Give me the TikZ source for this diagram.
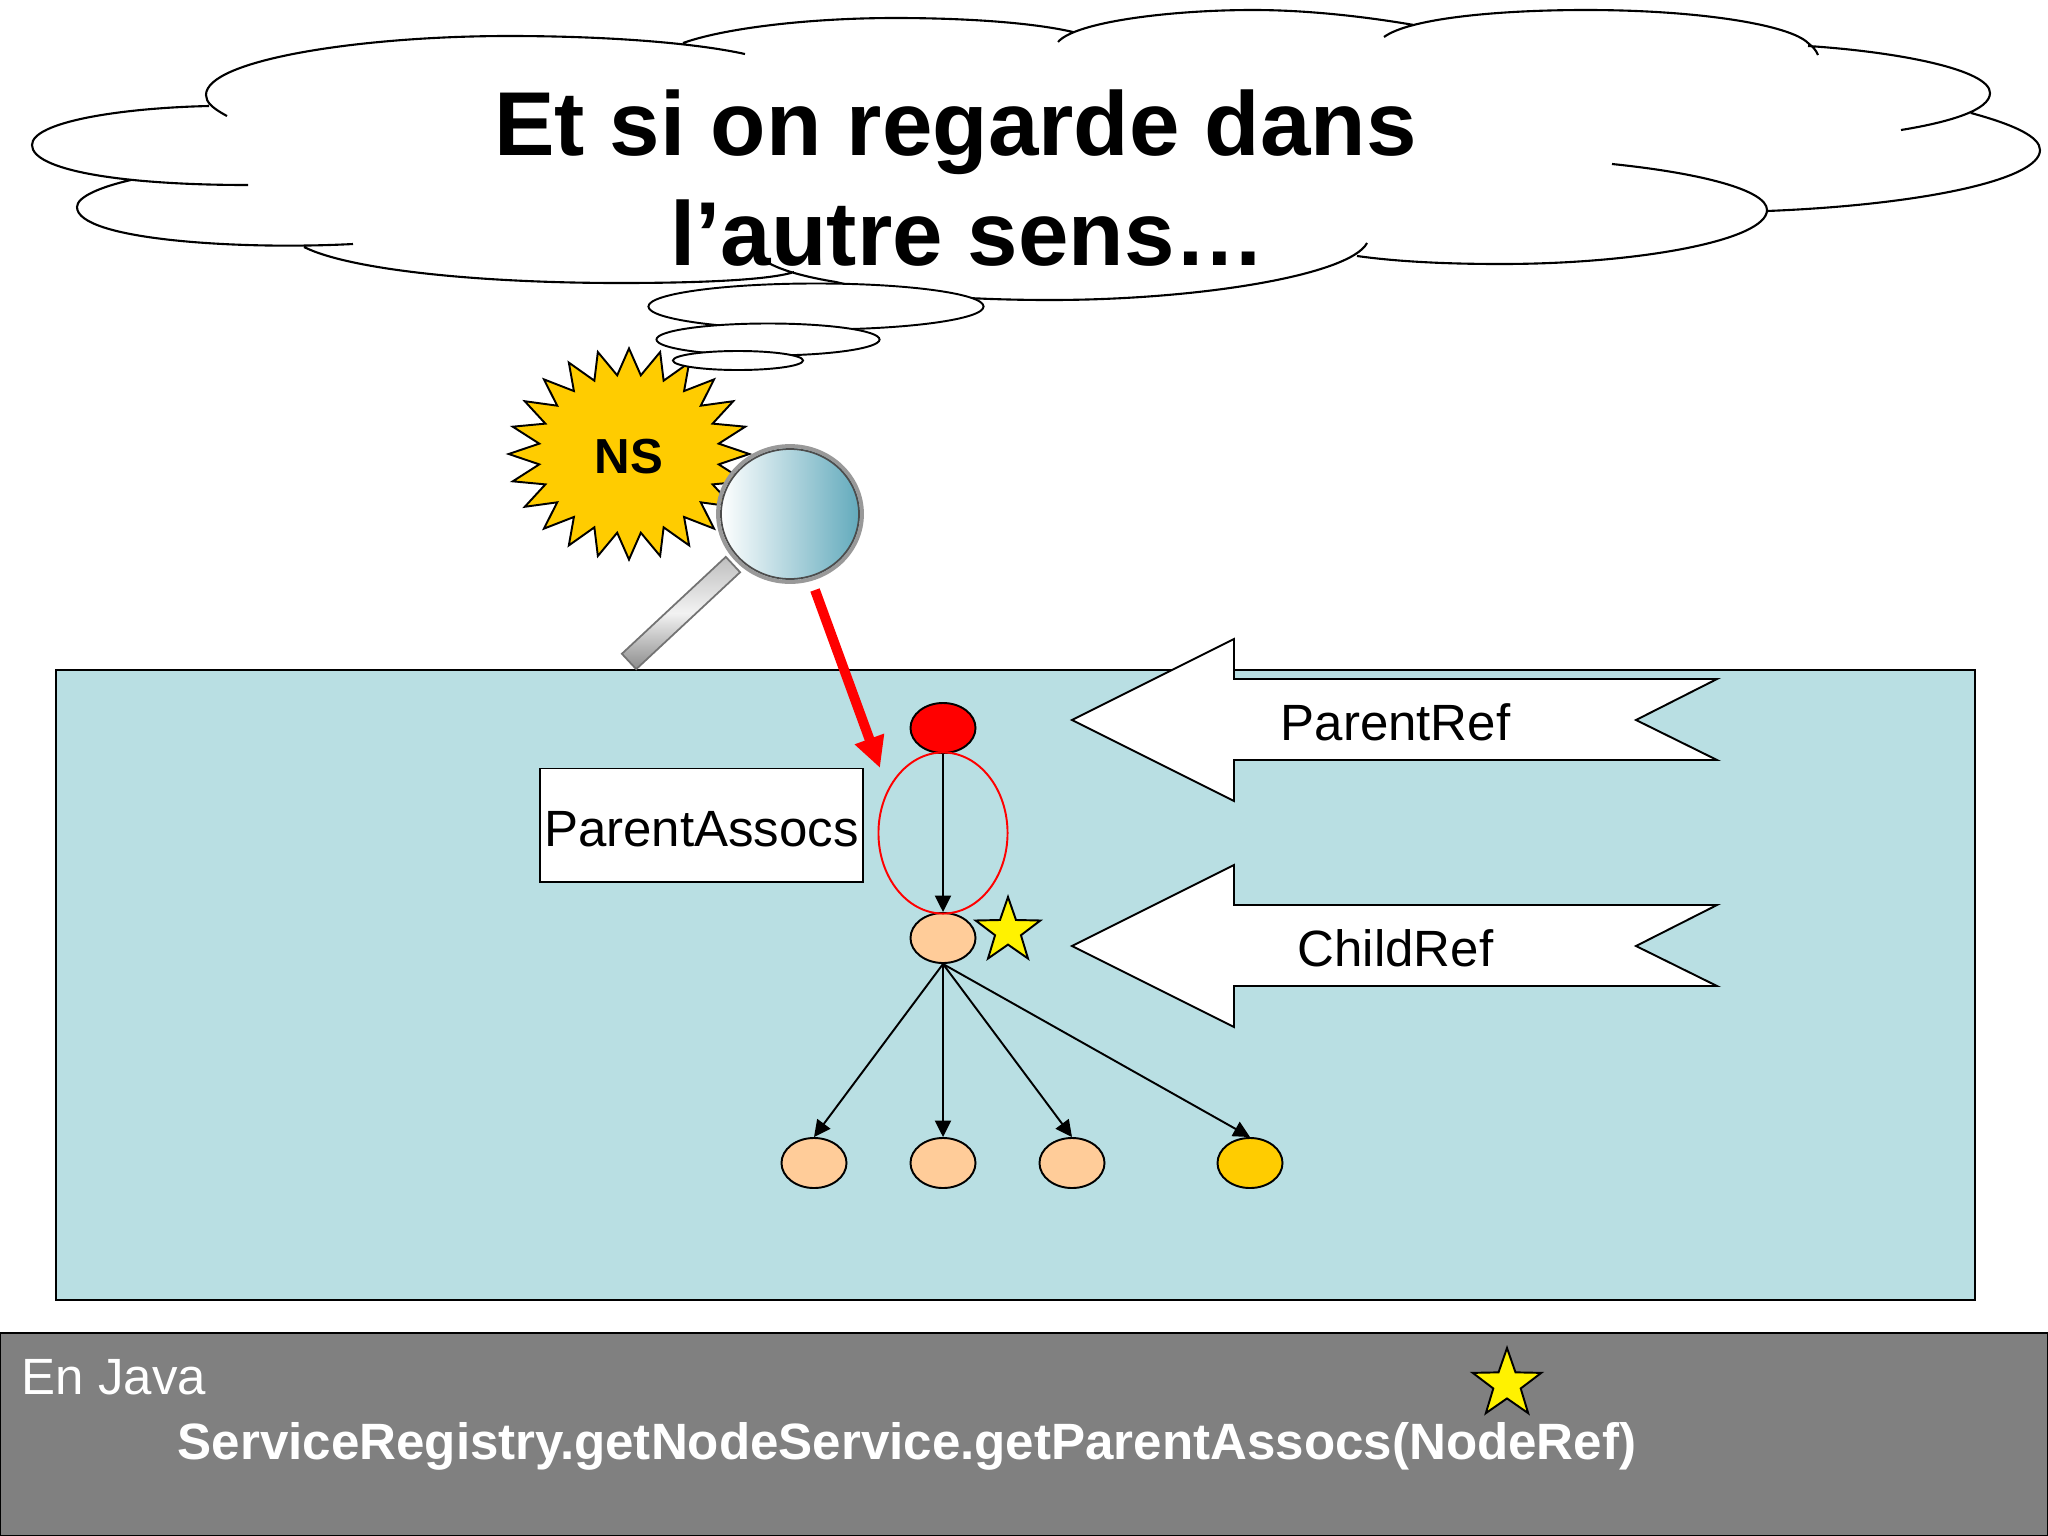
\documentclass[tikz,border=0pt]{standalone}
\usepackage{fontspec}
\setmainfont{Liberation Sans}
\usetikzlibrary{shapes.geometric,arrows.meta}
\definecolor{panelblue}{HTML}{B9DFE3}
\definecolor{peach}{HTML}{FFCC99}
\definecolor{nsgold}{HTML}{FFCC00}
\definecolor{lensblue}{HTML}{62AABC}
\tikzset{
  treenode/.style={draw, ellipse, inner sep=0pt, minimum width=0.65cm, minimum height=0.5cm, line width=0.55pt},
  puff/.style={draw, ellipse, fill=white, inner sep=0pt, line width=0.55pt},
  treearrow/.style={-{Triangle[length=4.7pt,width=4.6pt]}, line width=0.55pt},
  favstar/.style={draw, star, star points=5, star point ratio=2.5, fill=yellow, inner sep=0pt, minimum size=0.68cm, line width=0.55pt},
  bigtext/.style={font=\fontsize{14.5pt}{17pt}\selectfont}
}
\begin{document}
\begin{tikzpicture}[x=0.01cm, y=-0.01cm]
    \useasboundingbox (0,0) rectangle (2048,1536);

    % Panel and bottom bar
    \draw[fill=panelblue, line width=0.55pt] (56,670) rectangle (1975,1300);
    \draw[fill=black!50, line width=0.55pt] (0,1333) rectangle (2048,1536);

    % Cloud
    \draw[line width=0.6pt]
      (227,116) .. controls (212,108) and (206,102) .. (206,95) .. controls (206,60) and (360,36) .. (509,36) .. controls (600,36) and (690,42) .. (745,54)
      (683,43) .. controls (725,28) and (810,18) .. (895,18) .. controls (960,18) and (1030,22) .. (1073,32)
      (1058,42) .. controls (1075,22) and (1170,10) .. (1253,10) .. controls (1320,10) and (1385,20) .. (1414,25)
      (1384,37) .. controls (1410,18) and (1500,10) .. (1586,10) .. controls (1700,10) and (1790,25) .. (1808,43) .. controls (1813,47) and (1816,50) .. (1818,55)
      (1808,46) .. controls (1900,52) and (1990,70) .. (1990,93) .. controls (1990,110) and (1950,122) .. (1901,130)
      (1971,113) .. controls (2015,125) and (2040,137) .. (2040,150) .. controls (2040,180) and (1920,205) .. (1767,211)
      (1612,164) .. controls (1700,173) and (1767,190) .. (1767,210) .. controls (1767,240) and (1640,264) .. (1501,264) .. controls (1450,264) and (1400,262) .. (1357,256)
      (1367,243) .. controls (1350,275) and (1200,300) .. (1050,300) .. controls (960,300) and (880,293) .. (836,282) .. controls (805,277) and (780,270) .. (767,262)
      (794,272) .. controls (770,280) and (700,283) .. (620,283) .. controls (480,283) and (350,270) .. (304,247)
      (353,244) .. controls (240,250) and (77,240) .. (77,207) .. controls (77,197) and (100,187) .. (131,180)
      (248,185) .. controls (120,185) and (32,170) .. (32,145) .. controls (32,122) and (120,108) .. (209,106);
    \node[font=\fontsize{25.8pt}{31.2pt}\selectfont\bfseries, align=center] (title) at (968,178) {Et si on regarde dans\hspace*{0.278em}\\l’autre sens…};

    % Burst and thought puffs
    \node[draw, star, star points=24, star point ratio=1.33, fill=nsgold, inner sep=0pt, minimum size=2.11cm, xscale=1.14, line width=0.55pt] (burst) at (629,454) {};
    \node[font=\fontsize{14pt}{17pt}\selectfont\bfseries] (ns) at (629,457) {NS};
    \node[puff, minimum width=3.35cm, minimum height=0.46cm] (puffa) at (816,306.5) {};
    \node[puff, minimum width=2.23cm, minimum height=0.32cm] (puffb) at (768,339.5) {};
    \node[puff, minimum width=1.30cm, minimum height=0.19cm] (puffc) at (738,360.5) {};

    % Magnifier
    \node[rectangle, rotate=43, minimum width=1.42cm, minimum height=0.21cm, inner sep=0pt, draw=black!55, line width=0.5pt, top color=black!25, bottom color=black!45, middle color=black!5] (handle) at (681,613) {};
    \shade[left color=white, right color=lensblue] (790,514) ellipse (70 and 66);
    \draw[black!40, line width=1.1pt] (790,514) ellipse (72 and 68);
    \draw[black!70, line width=0.5pt] (790,514) ellipse (69 and 65);

    % Tree
    \node[treenode, fill=red] (root) at (943,728) {};
    \node[treenode, fill=peach] (child) at (943,938) {};
    \node[treenode, fill=peach] (leafa) at (814,1163) {};
    \node[treenode, fill=peach] (leafb) at (943,1163) {};
    \node[treenode, fill=peach] (leafc) at (1072,1163) {};
    \node[treenode, fill=nsgold] (leafd) at (1250,1163) {};
    \node[draw=red, ellipse, inner sep=0pt, minimum width=1.29cm, minimum height=1.61cm, line width=0.55pt] (assoc) at (943,833) {};
    \draw[treearrow] (root.south) -- (child.north);
    \foreach \leaf in {leafa, leafb, leafc, leafd} {
        \draw[treearrow] (child.south) -- (\leaf.north);
      }
    \node[favstar] (stara) at (1008,931) {};

    % Box and red arrow
    \node[draw, fill=white, bigtext, minimum width=3.23cm, minimum height=1.13cm, inner sep=0pt, text height=12pt, text depth=0pt, line width=0.55pt] (assocbox) at (701.5,825) {ParentAssocs};
    \coordinate (redstart) at (815,590);
    \coordinate (redend) at (880,768);
    \draw[-{Triangle[length=8.8pt,width=8.3pt]}, red, line width=2.8pt] (redstart) -- (redend);

    % Big arrows
    \foreach \y/\label in {720/ParentRef, 946/ChildRef} {
        \draw[fill=white, line width=0.55pt] (1072,\y) -- (1234,\y-81) -- (1234,\y-41) -- (1717,\y-41) -- (1636,\y) -- (1717,\y+40) -- (1234,\y+40) -- (1234,\y+81) -- cycle;
        \node[bigtext] (\label) at (1395.5,\y+2) {\label};
      }

    % Java line
    \node[favstar, minimum size=0.72cm] (starb) at (1507,1384) {};
    \node[anchor=base west, bigtext, text=white, inner sep=0pt] (java) at (21,1394) {En Java};
    \node[anchor=base west, text=white, inner sep=0pt, font=\fontsize{14.53pt}{17pt}\selectfont\bfseries] (call) at (177,1459) {ServiceRegistry.getNodeService.getParentAssocs(NodeRef)};
  \end{tikzpicture}
\end{document}
